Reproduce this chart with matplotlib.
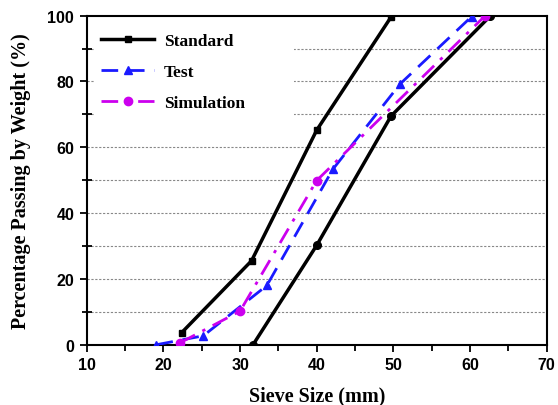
import matplotlib
matplotlib.use("Agg")
import matplotlib.pyplot as plt
from matplotlib.ticker import MultipleLocator

# gradation limits (two black lines share the "Standard" label)
std_lower_x = [22.4, 31.5, 40.0, 49.7]
std_lower_y = [3.7, 25.5, 65.2, 99.6]
std_upper_x = [31.7, 40.0, 49.7, 62.6]
std_upper_y = [0.0, 30.2, 69.5, 99.8]

test_x = [19.1, 25.2, 33.5, 42.1, 50.9, 60.2]
test_y = [0.0, 2.7, 18.0, 53.3, 79.3, 99.7]

sim_x = [22.2, 30.0, 40.0, 61.9]
sim_y = [0.6, 10.2, 49.9, 99.8]

serif = "Liberation Serif"
sans = "Liberation Sans"

fig = plt.figure(figsize=(5.58, 4.06), dpi=100)
ax = fig.add_axes([0.1554, 0.1485, 0.8243, 0.8104])

ax.plot(std_lower_x, std_lower_y, color="black", lw=2.5, marker="s", ms=5,
        label="Standard", zorder=3)
ax.plot(std_upper_x, std_upper_y, color="black", lw=2.5, marker="o", ms=5.5,
        zorder=3)
ax.plot(test_x, test_y, color="#1a1aff", lw=2, ls=(0, (6, 3.5)), marker="^",
        ms=6, label="Test", zorder=4)
ax.plot(sim_x, sim_y, color="#cc00ee", lw=2, ls=(0, (6, 3, 1.2, 3)), marker="o",
        ms=6, label="Simulation", zorder=4)

ax.set_xlim(10, 70)
ax.set_ylim(0, 100)
ax.xaxis.set_major_locator(MultipleLocator(10))
ax.xaxis.set_minor_locator(MultipleLocator(5))
ax.yaxis.set_major_locator(MultipleLocator(20))
ax.yaxis.set_minor_locator(MultipleLocator(10))

for y in range(10, 100, 10):
    ax.axhline(y, color="#888888", lw=0.8, ls=(0, (2, 1.5)), zorder=1)

ax.tick_params(which="both", direction="out", width=1.3, labelsize=11.5,
               top=False, right=False)
ax.tick_params(which="major", length=5)
ax.tick_params(which="minor", length=4)
ax.tick_params(axis="y", which="minor", direction="inout", length=7)
ax.tick_params(axis="y", pad=4)
for lab in ax.get_xticklabels() + ax.get_yticklabels():
    lab.set_fontfamily(sans)
    lab.set_fontweight("bold")

for s in ax.spines.values():
    s.set_linewidth(1.5)

ax.set_xlabel("Sieve Size (mm)", fontfamily=serif, fontweight="bold",
              fontsize=14.5, labelpad=10)
ax.set_ylabel("Percentage Passing by Weight (%)", fontfamily=serif,
              fontweight="bold", fontsize=14.5, labelpad=12)

leg = ax.legend(loc="upper left", bbox_to_anchor=(0.0, 0.993, 0.47, 0),
                mode="expand", prop={"family": serif, "weight": "bold", "size": 12.5},
                handlelength=3.0, handletextpad=0.6, labelspacing=0.85,
                borderpad=0.35, fancybox=False, framealpha=1)
leg.get_frame().set_edgecolor("none")
leg.get_frame().set_facecolor("white")
leg.set_zorder(5)

fig.savefig("out.png", dpi=100)
